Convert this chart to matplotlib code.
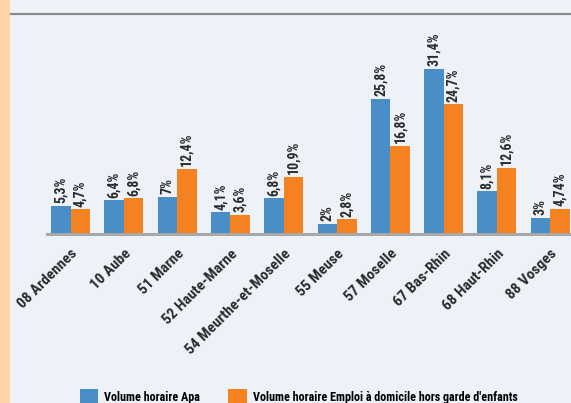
import matplotlib
matplotlib.use("Agg")
import matplotlib.pyplot as plt
import matplotlib.patches as mpatches
from matplotlib.lines import Line2D
import numpy as np

BG     = "#EDF2F9"
PEACH  = "#FDD3AA"
BLUE   = "#4A8DC7"
ORANGE = "#F58220"
TEXT   = "#2B2B2B"

departements = ["08 Ardennes", "10 Aube", "51 Marne", "52 Haute-Marne",
                "54 Meurthe-et-Moselle", "55 Meuse", "57 Moselle",
                "67 Bas-Rhin", "68 Haut-Rhin", "88 Vosges"]
apa    = [5.3, 6.4, 7, 4.1, 6.8, 2, 25.8, 31.4, 8.1, 3]
emploi = [4.7, 6.8, 12.4, 3.6, 10.9, 2.8, 16.8, 24.7, 12.6, 4.74]
series_names = ["Volume horaire Apa",
                "Volume horaire Emploi à domicile hors garde d'enfants"]

plt.rcParams["font.family"] = ["Roboto Condensed", "DejaVu Sans"]

W, H = 571, 403
fig = plt.figure(figsize=(W / 100, H / 100), dpi=100)
fig.patch.set_facecolor(BG)

# peach stripe on the left + rule under the (cut off) title
fig.patches.append(mpatches.Rectangle((0, 0), 10 / W, 1, transform=fig.transFigure,
                                      facecolor=PEACH, edgecolor="none"))
fig.lines.append(Line2D([11 / W, 1], [1 - 14 / H, 1 - 14 / H], transform=fig.transFigure,
                        color="#8C8C8C", lw=1.6))

# axes: baseline at y=234px, 5.25 px per %
base_px, top_px = 234, 20
left_px = 47
ax = fig.add_axes([left_px / W, (H - base_px) / H, (W - left_px) / W, (base_px - top_px) / H])
ax.set_facecolor(BG)
ax.set_ylim(0, (base_px - top_px) / 5.25)
step = 53.3
ax.set_xlim((left_px - 70.5) / step, (W - 70.5) / step)

x = np.arange(len(departements))
bw = 19.5 / step
ax.bar(x - bw / 2, apa, bw, color=BLUE, label=series_names[0])
ax.bar(x + bw / 2, emploi, bw, color=ORANGE, label=series_names[1])


def fmt(v):
    return f"{v:g}".replace(".", ",") + "%"


for xi, a, e in zip(x, apa, emploi):
    for xx, v in ((xi - bw / 2, a), (xi + bw / 2, e)):
        ax.annotate(fmt(v), (xx, v), xytext=(0, 2), textcoords="offset points",
                    rotation=90, ha="center", va="bottom", fontsize=10,
                    fontweight="bold", color=TEXT)

for s in ("top", "right", "left"):
    ax.spines[s].set_visible(False)
ax.spines["bottom"].set_color("#A8A8A8")
ax.spines["bottom"].set_linewidth(2.2)
ax.set_yticks([])
ax.set_xticks(x)
ax.set_xticklabels(departements, rotation=45, ha="right", rotation_mode="anchor",
                   fontsize=11, fontweight="bold", color=TEXT)
ax.tick_params(axis="x", length=0, pad=9)

handles = [mpatches.Patch(facecolor=BLUE, label=series_names[0]),
           mpatches.Patch(facecolor=ORANGE, label=series_names[1])]
fig.legend(handles=handles, loc="center", bbox_to_anchor=(0.523, 0.016), ncol=2,
           frameon=False, prop={"weight": "bold", "size": 8.7},
           handlelength=1.55, handleheight=1.5, columnspacing=2.3, handletextpad=0.5)

fig.savefig("out.png", dpi=100, facecolor=fig.get_facecolor())
